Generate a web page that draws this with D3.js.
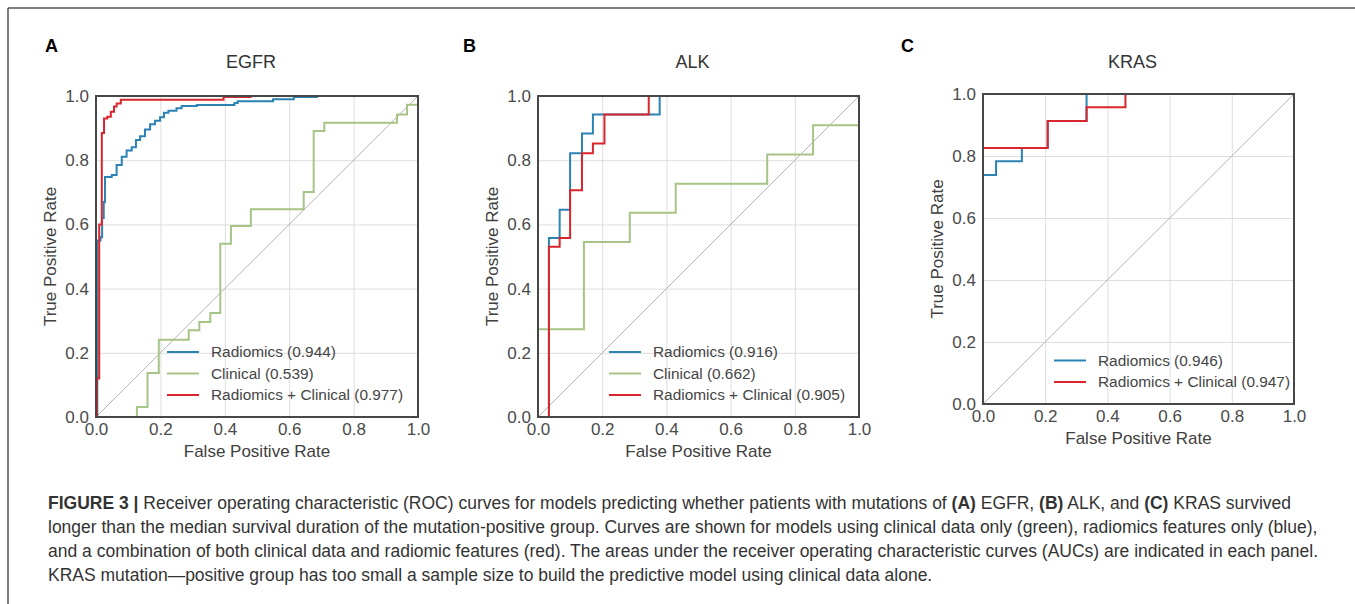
<!DOCTYPE html>
<html>
<head>
<meta charset="utf-8">
<script src="https://cdn.jsdelivr.net/npm/d3@7"></script>
<style>
  body { margin: 0; background: #fff; }
  svg text { font-family: "Liberation Sans", Arial, sans-serif; }
  .tick-label { font-size: 17px; fill: #4a4a4a; }
  .axis-label { font-size: 17px; fill: #404040; }
  .panel-title { font-size: 18px; fill: #333; }
  .panel-letter { font-size: 18px; font-weight: bold; fill: #000; }
  .legend-text { font-size: 15.4px; fill: #454545; }
  .caption { font-size: 17.5px; fill: #333; }
</style>
</head>
<body>
<div id="chart"></div>
<script>
const svgWidth = 1355;
const svgHeight = 604;

// tick values shared by every panel
const tickValues = [0, 0.2, 0.4, 0.6, 0.8, 1.0];

// EGFR curves, [fpr, tpr]
const egfrRadiomics = [[0,0],[0.004,0],[0.004,0.55],[0.014,0.55],[0.014,0.56],[0.019,0.56],[0.019,0.62],[0.024,0.62],[0.024,0.67],[0.028,0.67],[0.028,0.748],[0.049,0.748],[0.049,0.754],[0.064,0.754],[0.064,0.785],[0.08,0.785],[0.08,0.811],[0.095,0.811],[0.095,0.83],[0.111,0.83],[0.111,0.84],[0.124,0.84],[0.124,0.863],[0.137,0.863],[0.137,0.875],[0.152,0.875],[0.152,0.896],[0.168,0.896],[0.168,0.912],[0.183,0.912],[0.183,0.923],[0.199,0.923],[0.199,0.934],[0.211,0.934],[0.211,0.948],[0.225,0.948],[0.225,0.954],[0.25,0.954],[0.25,0.962],[0.266,0.962],[0.266,0.969],[0.313,0.969],[0.313,0.972],[0.43,0.972],[0.43,0.978],[0.44,0.978],[0.44,0.984],[0.55,0.984],[0.55,0.99],[0.614,0.99],[0.614,0.997],[0.686,0.997],[0.686,1],[1,1]];
const egfrClinical = [[0,0],[0.127,0],[0.127,0.031],[0.16,0.031],[0.16,0.137],[0.195,0.137],[0.195,0.241],[0.288,0.241],[0.288,0.27],[0.321,0.27],[0.321,0.296],[0.355,0.296],[0.355,0.324],[0.386,0.324],[0.386,0.54],[0.419,0.54],[0.419,0.595],[0.481,0.595],[0.481,0.647],[0.645,0.647],[0.645,0.701],[0.676,0.701],[0.676,0.891],[0.709,0.891],[0.709,0.917],[0.935,0.917],[0.935,0.942],[0.966,0.942],[0.966,0.973],[1,0.973],[1,1]];
const egfrCombined = [[0,0],[0.003,0],[0.003,0.12],[0.01,0.12],[0.01,0.6],[0.018,0.6],[0.018,0.885],[0.025,0.885],[0.025,0.93],[0.035,0.93],[0.035,0.935],[0.046,0.935],[0.046,0.951],[0.056,0.951],[0.056,0.967],[0.064,0.967],[0.064,0.977],[0.077,0.977],[0.077,0.988],[0.396,0.988],[0.396,0.997],[0.48,0.997],[0.48,1],[1,1]];

// ALK curves
const alkRadiomics = [[0,0],[0.034,0],[0.034,0.558],[0.0675,0.558],[0.0675,0.646],[0.1,0.646],[0.1,0.822],[0.137,0.822],[0.137,0.883],[0.171,0.883],[0.171,0.942],[0.379,0.942],[0.379,1],[1,1]];
const alkClinical = [[0,0],[0,0.273],[0.143,0.273],[0.143,0.545],[0.286,0.545],[0.286,0.636],[0.429,0.636],[0.429,0.727],[0.714,0.727],[0.714,0.818],[0.857,0.818],[0.857,0.909],[1,0.909],[1,1]];
const alkCombined = [[0,0],[0.034,0],[0.034,0.53],[0.0675,0.53],[0.0675,0.558],[0.1,0.558],[0.1,0.706],[0.137,0.706],[0.137,0.822],[0.171,0.822],[0.171,0.852],[0.207,0.852],[0.207,0.942],[0.345,0.942],[0.345,1],[1,1]];

// KRAS curves (no clinical model)
const krasRadiomics = [[0,0],[0,0.739],[0.042,0.739],[0.042,0.783],[0.125,0.783],[0.125,0.826],[0.208,0.826],[0.208,0.913],[0.333,0.913],[0.333,1],[1,1]];
const krasCombined = [[0,0],[0,0.826],[0.208,0.826],[0.208,0.913],[0.333,0.913],[0.333,0.957],[0.458,0.957],[0.458,1],[1,1]];

// legend entries
const egfrLegend = ["Radiomics (0.944)", "Clinical (0.539)", "Radiomics + Clinical (0.977)"];
const alkLegend = ["Radiomics (0.916)", "Clinical (0.662)", "Radiomics + Clinical (0.905)"];
const krasLegend = ["Radiomics (0.946)", "Radiomics + Clinical (0.947)"];

const panelTitles = ["EGFR", "ALK", "KRAS"];
const panelLetters = ["A", "B", "C"];

const captionLines = [
    [["FIGURE 3 | ", true], ["Receiver operating characteristic (ROC) curves for models predicting whether patients with mutations of ", false], ["(A)", true], [" EGFR, ", false], ["(B)", true], [" ALK, and ", false], ["(C)", true], [" KRAS survived", false]],
    [["longer than the median survival duration of the mutation-positive group. Curves are shown for models using clinical data only (green), radiomics features only (blue),", false]],
    [["and a combination of both clinical data and radiomic features (red). The areas under the receiver operating characteristic curves (AUCs) are indicated in each panel.", false]],
    [["KRAS mutation\u2014positive group has too small a sample size to build the predictive model using clinical data alone.", false]]
];

const colors = { radiomics: "#2a83b3", clinical: "#a6c485", combined: "#d9262e" };

// layout of the three panels (pixels)
const panels = [
    { left: 96, top: 96, w: 322, h: 321, letterX: 45,
      curves: [[egfrRadiomics, colors.radiomics], [egfrClinical, colors.clinical], [egfrCombined, colors.combined]],
      legend: egfrLegend, legendColors: [colors.radiomics, colors.clinical, colors.combined] },
    { left: 538, top: 96, w: 321, h: 321, letterX: 463,
      curves: [[alkRadiomics, colors.radiomics], [alkClinical, colors.clinical], [alkCombined, colors.combined]],
      legend: alkLegend, legendColors: [colors.radiomics, colors.clinical, colors.combined] },
    { left: 983, top: 94, w: 311, h: 310, letterX: 901,
      curves: [[krasRadiomics, colors.radiomics], [krasCombined, colors.combined]],
      legend: krasLegend, legendColors: [colors.radiomics, colors.combined] }
];

const svg = d3.select("#chart")
    .append("svg")
    .attr("width", svgWidth)
    .attr("height", svgHeight);

// figure frame: top and left rules
svg.append("line")
    .attr("x1", 8).attr("y1", 8).attr("x2", svgWidth).attr("y2", 8)
    .attr("stroke", "#555").attr("stroke-width", 1.5);
svg.append("line")
    .attr("x1", 8).attr("y1", 8).attr("x2", 8).attr("y2", svgHeight)
    .attr("stroke", "#555").attr("stroke-width", 1.5);

panels.forEach(function(p, i){
    const x = d3.scaleLinear().domain([0, 1]).range([0, p.w]);
    const y = d3.scaleLinear().domain([0, 1]).range([p.h, 0]);

    const g = svg.append("g")
        .attr("transform", `translate(${p.left}, ${p.top})`);

    // letter + title
    svg.append("text")
        .attr("class", "panel-letter")
        .attr("x", p.letterX)
        .attr("y", 52)
        .text(panelLetters[i]);
    svg.append("text")
        .attr("class", "panel-title")
        .attr("x", p.left + p.w / 2 - 6)
        .attr("y", 68)
        .attr("text-anchor", "middle")
        .text(panelTitles[i]);

    // grid
    g.append("g")
        .call(d3.axisBottom(x).tickValues(tickValues).tickSize(p.h).tickFormat(""))
        .call(a => a.select(".domain").remove())
        .call(a => a.selectAll("line").attr("stroke", "#dedede").attr("stroke-width", 1));
    g.append("g")
        .call(d3.axisLeft(y).tickValues(tickValues).tickSize(-p.w).tickFormat(""))
        .call(a => a.select(".domain").remove())
        .call(a => a.selectAll("line").attr("stroke", "#dedede").attr("stroke-width", 1));

    // chance diagonal
    g.append("line")
        .attr("x1", x(0)).attr("y1", y(0))
        .attr("x2", x(1)).attr("y2", y(1))
        .attr("stroke", "#b3b3b3")
        .attr("stroke-width", 1);

    // curves
    const line = d3.line()
        .x(d => x(d[0]))
        .y(d => y(d[1]));
    p.curves.forEach(function(c){
        g.append("path")
            .datum(c[0])
            .attr("d", line)
            .attr("fill", "none")
            .attr("stroke", c[1])
            .attr("stroke-width", 2);
    });

    // frame
    g.append("rect")
        .attr("x", 0).attr("y", 0)
        .attr("width", p.w).attr("height", p.h)
        .attr("fill", "none")
        .attr("stroke", "#474747")
        .attr("stroke-width", 2);

    // tick labels
    const xAxis = g.append("g")
        .attr("transform", `translate(0, ${p.h})`)
        .call(d3.axisBottom(x).tickValues(tickValues).tickSize(0).tickPadding(6).tickFormat(d3.format(".1f")));
    xAxis.select(".domain").remove();
    xAxis.selectAll("text").attr("class", "tick-label").attr("fill", null).attr("font-size", null).attr("font-family", null);

    const yAxis = g.append("g")
        .call(d3.axisLeft(y).tickValues(tickValues).tickSize(0).tickPadding(7).tickFormat(d3.format(".1f")));
    yAxis.select(".domain").remove();
    yAxis.selectAll("text").attr("class", "tick-label").attr("fill", null).attr("font-size", null).attr("font-family", null);

    // axis labels
    g.append("text")
        .attr("class", "axis-label")
        .attr("x", p.w / 2)
        .attr("y", p.h + 40)
        .attr("text-anchor", "middle")
        .text("False Positive Rate");
    g.append("text")
        .attr("class", "axis-label")
        .attr("transform", "rotate(-90)")
        .attr("x", -p.h / 2)
        .attr("y", -40)
        .attr("text-anchor", "middle")
        .text("True Positive Rate");

    // legend
    const n = p.legend.length;
    const legendG = g.append("g");
    p.legend.forEach(function(label, k){
        const ly = p.h - 22 - (n - 1 - k) * 21.5;
        legendG.append("line")
            .attr("x1", 71).attr("x2", 103)
            .attr("y1", ly).attr("y2", ly)
            .attr("stroke", p.legendColors[k])
            .attr("stroke-width", 2);
        legendG.append("text")
            .attr("class", "legend-text")
            .attr("x", 115)
            .attr("y", ly)
            .attr("dy", "0.35em")
            .text(label);
    });
});

// caption
const caption = svg.append("g");
captionLines.forEach(function(parts, i){
    const t = caption.append("text")
        .attr("class", "caption")
        .attr("x", 48)
        .attr("y", 509 + i * 24);
    parts.forEach(function(part){
        t.append("tspan")
            .attr("font-weight", part[1] ? "bold" : null)
            .text(part[0]);
    });
});
</script>
</body>
</html>
